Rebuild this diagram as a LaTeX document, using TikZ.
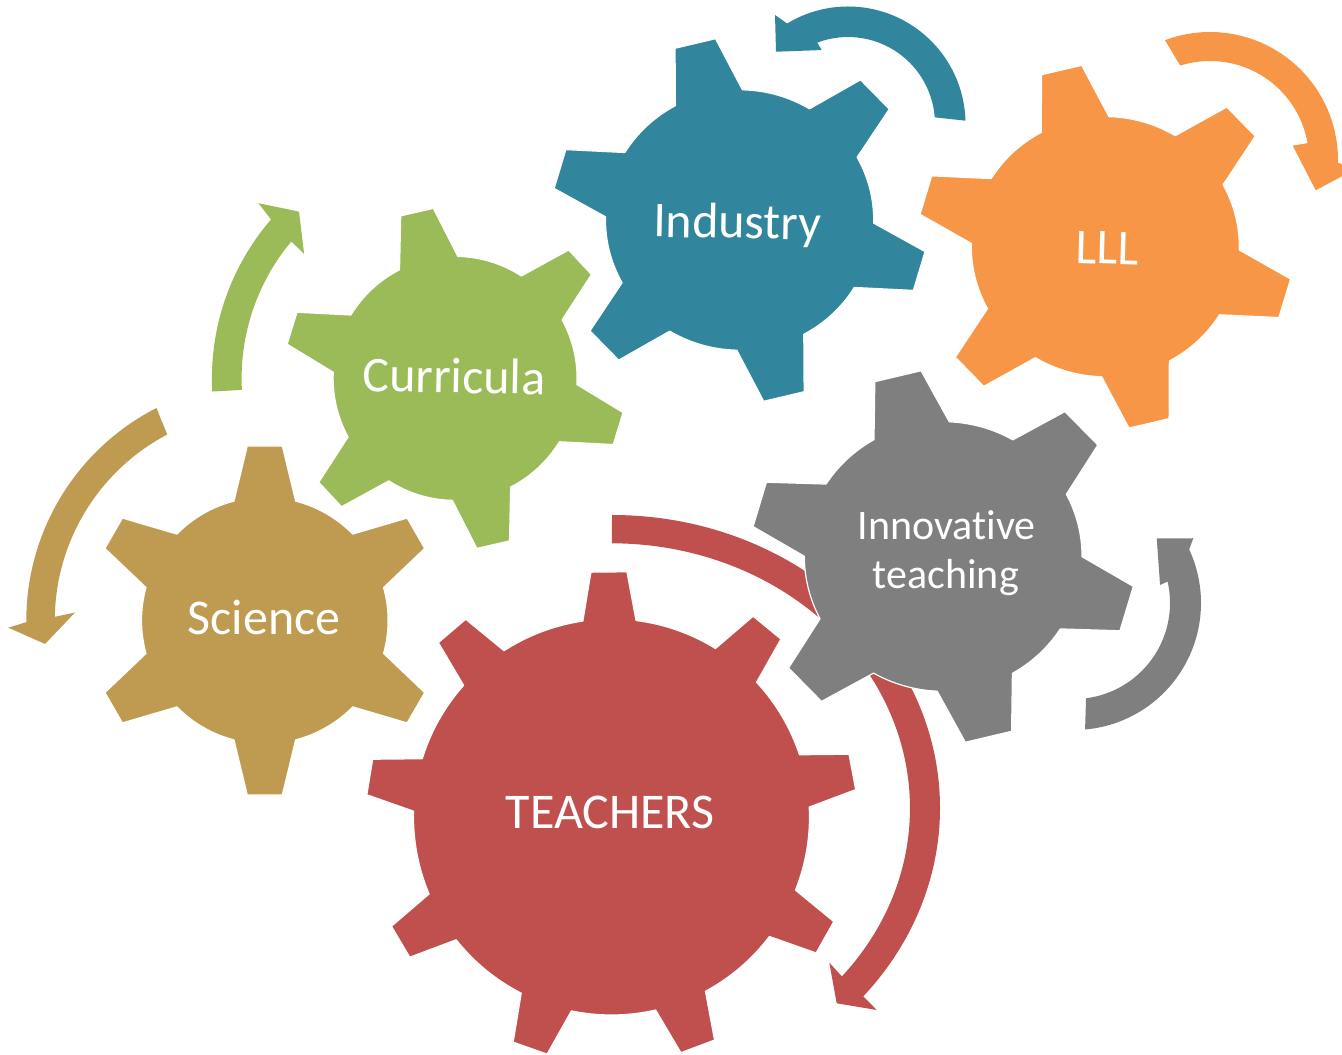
\documentclass[tikz,border=0pt]{standalone}
\usepackage{fontspec}
\setmainfont{Carlito}[Ligatures={NoCommon}]
\definecolor{cRed}{HTML}{C0504D}
\definecolor{cTan}{HTML}{BF9B52}
\definecolor{cGreen}{HTML}{9BBB59}
\definecolor{cTeal}{HTML}{31859C}
\definecolor{cOrange}{HTML}{F79646}
\definecolor{cGray}{HTML}{7F7F7F}
% #1 colour/options, #2 cx, #3 cy, #4 teeth, #5 first tooth angle, #6 body radius, #7 base half-angle, #8 tip radius, #9 tip half-angle
\newcommand{\drawgear}[9]{%
  \begin{scope}[shift={(#2,#3)}, #1]
  \pgfmathsetmacro\gstep{360/#4}
  \pgfmathtruncatemacro\glast{#4-1}
  \path[fill, draw=white, line width=1.2pt, line join=round] ({#5-#7}:#6pt)
    \foreach \k in {0,...,\glast}{
      -- ({#5+\k*\gstep-#9}:#8pt) -- ({#5+\k*\gstep+#9}:#8pt) -- ({#5+\k*\gstep+#7}:#6pt)
      arc[start angle={#5+\k*\gstep+#7}, end angle={#5+(\k+1)*\gstep-#7}, radius=#6pt]
    } -- cycle;
  \end{scope}}
\tikzset{
  lbl/.style={text=white, font=\fontsize{50}{60}\selectfont, anchor=base, inner sep=0pt},
  lblsmall/.style={text=white, font=\fontsize{42}{48}\selectfont, anchor=base, inner sep=0pt}
}
\begin{document}
\begin{tikzpicture}[x=1pt,y=1pt]
\useasboundingbox (0,0) rectangle (1342,1055);
\clip (0,0) rectangle (1342,1055);
% ---------- arrows drawn below the gears ----------
% red arrow (elliptic)
\begin{scope}[shift={(612,247)}]
\fill[cRed] (0pt,293pt) arc[start angle=90, end angle=-40, x radius=328pt, y radius=293pt]
  -- (264.7pt,-202pt) -- (224.7pt,-195.3pt) -- (217.3pt,-154.7pt) -- (229.9pt,-168.4pt)
  arc[start angle=-39.5, end angle=90, x radius=298pt, y radius=264.7pt] -- cycle;
\end{scope}
% tan arrow
\begin{scope}[shift={(264.8,434.5)}]
\fill[cTan] (117:238.5pt) arc[start angle=117, end angle=180.4, radius=238.5pt]
  -- (181.6:256.6pt) -- (186.1:221pt) -- (177.6:190pt) -- (179:210pt)
  arc[start angle=179, end angle=117.7, radius=210pt] -- cycle;
\end{scope}
% green arrow
\begin{scope}[shift={(455.1,676.6)}]
\fill[cGreen] (183.1:243.2pt) arc[start angle=183.1, end angle=139.2, radius=243.2pt]
  -- (138.3:263.4pt) -- (133.1:228.4pt) -- (140.5:195.7pt) -- (140.1:213.5pt)
  arc[start angle=140.1, end angle=183.1, radius=213.5pt] -- cycle;
\end{scope}
% teal arrow
\begin{scope}[shift={(848,931)}]
\fill[cTeal] (1.6:117.5pt) arc[start angle=1.6, end angle=121.2, radius=117.5pt]
  -- (123.8:131.2pt) -- (134.9:102pt) -- (109.6:78.5pt) -- (110.7:87pt)
  arc[start angle=110.7, end angle=4.4, radius=87pt] -- cycle;
\end{scope}
% orange arrow
\begin{scope}[shift={(1210,895)}]
\fill[cOrange] (110.6:128pt) arc[start angle=110.6, end angle=-1.3, radius=128pt]
  -- (-3:148pt) -- (-16:110pt) -- (9.8:84pt) -- (9.8:99pt)
  arc[start angle=9.8, end angle=107.5, radius=99pt] -- cycle;
\end{scope}
% gray arrow
\begin{scope}[shift={(1074,452)}]
\fill[cGray] (-85:127pt) arc[start angle=-85, end angle=24.9, radius=127pt]
  -- (28.5:135.7pt) -- (38:105pt) -- (11.8:87.9pt) -- (12.9:96pt)
  arc[start angle=12.9, end angle=-82.8, radius=96pt] -- cycle;
\end{scope}
% ---------- gears ----------
\drawgear{cTan}{264.8}{434.5}{6}{90}{123.3}{14.49}{175.4}{5.73}
\drawgear{cRed}{611.5}{238}{9}{90.6}{198}{7.72}{245.7}{4.2}
\drawgear{cGreen}{455.1}{676.6}{6}{102.9}{122}{14.2}{171.4}{5.6}
\drawgear{cTeal,xscale=1.03}{739.6}{835}{6}{103.7}{130.2}{14.9}{182.8}{6.35}
\drawgear{cOrange,xscale=1.03}{1105.3}{808.3}{6}{103.5}{130.1}{15.06}{182.8}{6.3}
\drawgear{cGray,xscale=1.03}{943.2}{498.5}{6}{103.7}{134.8}{16.2}{187}{7.1}
% ---------- labels ----------
\node[lbl] (tTeachers) at (610,226) {TEACHERS};
\node[lbl] (tScience) at (264,420) {Science};
\node[lbl, rotate=-1] (tCurricula) at (454,662) {Curricula};
\node[lbl, rotate=-1] (tIndustry) at (737,816.7) {Industry};
\node[lbl, rotate=-1.5] (tLLL) at (1107,791) {LLL};
\node[lblsmall] (tInnov) at (946.7,515) {Innovat\kern0pt ive};
\node[lblsmall] (tTeach) at (945.8,466.7) {teaching};
\end{tikzpicture}
\end{document}
